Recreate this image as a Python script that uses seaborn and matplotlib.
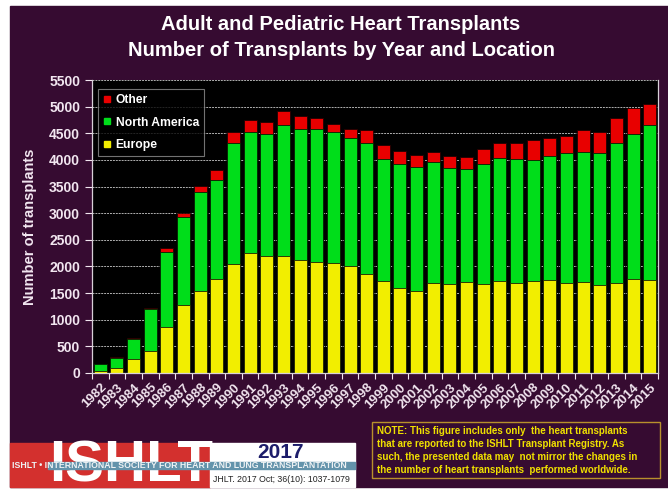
import seaborn as sns
import matplotlib.pyplot as plt
import numpy as np
import pandas as pd
from matplotlib.patches import Rectangle
from matplotlib.lines import Line2D

sns.set_style("dark")
plt.rcParams['font.family'] = ['Liberation Sans', 'DejaVu Sans']

# data
years = ['1982', '1983', '1984', '1985', '1986', '1987', '1988', '1989', '1990', '1991',
         '1992', '1993', '1994', '1995', '1996', '1997', '1998', '1999', '2000', '2001',
         '2002', '2003', '2004', '2005', '2006', '2007', '2008', '2009', '2010', '2011',
         '2012', '2013', '2014', '2015']
europe = [44, 88, 257, 419, 858, 1277, 1546, 1771, 2040, 2259,
          2196, 2196, 2115, 2090, 2059, 2003, 1865, 1721, 1596, 1546,
          1690, 1677, 1715, 1677, 1727, 1696, 1721, 1746, 1683, 1702,
          1646, 1696, 1771, 1752]
north_america = [119, 200, 375, 777, 1420, 1658, 1852, 1859, 2284, 2259,
                 2284, 2459, 2472, 2484, 2459, 2409, 2459, 2302, 2327, 2315,
                 2277, 2165, 2108, 2252, 2315, 2321, 2271, 2328, 2441, 2453,
                 2478, 2628, 2709, 2910]
other = [5, 8, 31, 15, 62, 62, 106, 181, 200, 231,
         238, 270, 231, 213, 151, 175, 238, 251, 244, 231,
         176, 232, 226, 282, 282, 307, 382, 331, 325, 407,
         406, 457, 489, 394]

series_names = ['Other', 'North America', 'Europe']
series_colors = ['#e80000', '#00dd1a', '#f2ee00']

df = pd.DataFrame({'year': years, 'europe': europe,
                   'north_america': north_america, 'other': other})
df['eu_na'] = df['europe'] + df['north_america']
df['total'] = df['eu_na'] + df['other']

W, H = 668, 492
bg = '#360b31'
txt = '#f2e6f0'

fig = plt.figure(figsize=(W / 100, H / 100), dpi=100, facecolor='white')


def fx(x):
    return x / W


def fy(y):
    return 1 - y / H


# purple slide background (behind the axes)
fig.patches.append(Rectangle((fx(10), fy(487)), 1 - fx(10), fy(6) - fy(487),
                             transform=fig.transFigure, color=bg, zorder=-5))

ax = fig.add_axes([fx(92), fy(373), fx(658) - fx(92), fy(80) - fy(373)])
ax.set_facecolor('black')

sns.barplot(data=df, x='year', y='total', color=series_colors[0], saturation=1,
            width=0.78, edgecolor='#200000', linewidth=0.6, ax=ax)
sns.barplot(data=df, x='year', y='eu_na', color=series_colors[1], saturation=1,
            width=0.78, edgecolor='#002000', linewidth=0.6, ax=ax)
sns.barplot(data=df, x='year', y='europe', color=series_colors[2], saturation=1,
            width=0.78, edgecolor='#202000', linewidth=0.6, ax=ax)

ax.set_ylim(0, 5500)
ax.set_xlim(-0.5, len(years) - 0.5)
ax.set_yticks(np.arange(0, 5501, 500))
ax.yaxis.grid(True, color='#b0b0b0', linestyle=(0, (2, 1)), linewidth=0.7)
ax.xaxis.grid(False)
ax.set_axisbelow(True)

ax.tick_params(axis='y', colors=txt, labelsize=10, length=5, width=0.8, direction='out', left=True)
for lab in ax.get_yticklabels():
    lab.set_fontweight('bold')

ax.set_xticks(range(len(years)))
ax.set_xticklabels(years, rotation=45, ha='right', va='top', rotation_mode='anchor',
                   fontsize=9.5, fontweight='bold', color=txt)
ax.tick_params(axis='x', which='major', length=0, pad=6)
ax.set_xticks(np.arange(-0.5, len(years), 1), minor=True)
ax.tick_params(axis='x', which='minor', length=4, width=0.8, color=txt, direction='out', bottom=True)

ax.set_xlabel('')
ax.set_ylabel('Number of transplants', color=txt, fontsize=10.5, fontweight='bold', labelpad=9)

for side in ['left', 'bottom', 'right']:
    ax.spines[side].set_visible(True)
    ax.spines[side].set_color('#d8d0d8')
    ax.spines[side].set_linewidth(0.9)
ax.spines['top'].set_visible(False)

handles = [Line2D([], [], marker='s', linestyle='none', markersize=4,
                  markerfacecolor=c, markeredgecolor=c) for c in series_colors]
leg = ax.legend(handles, series_names, loc='upper left', bbox_to_anchor=(0.0, 0.99),
                frameon=True, fancybox=False, facecolor='black', edgecolor='#909090',
                labelcolor='white', prop={'weight': 'bold', 'size': 8.7},
                handlelength=0.6, handletextpad=0.4, labelspacing=0.85, borderpad=0.45)
leg.get_frame().set_linewidth(0.8)

# titles
fig.text(fx(341), fy(25), 'Adult and Pediatric Heart Transplants', ha='center', va='center',
         color='white', fontsize=14.5, fontweight='bold')
fig.text(fx(341), fy(51), 'Number of Transplants by Year and Location', ha='center', va='center',
         color='white', fontsize=14.5, fontweight='bold')

# note box
fig.patches.append(Rectangle((fx(372), fy(478)), fx(660) - fx(372), fy(422) - fy(478),
                             transform=fig.transFigure, facecolor=bg, edgecolor='#b8902c',
                             linewidth=1.0, zorder=1))
note_lines = ['NOTE: This figure includes only  the heart transplants',
              'that are reported to the ISHLT Transplant Registry. As',
              'such, the presented data may  not mirror the changes in',
              'the number of heart transplants  performed worldwide.']
for i, line in enumerate(note_lines):
    fig.text(fx(377), fy(431 + 13 * i), line, ha='left', va='center', color='#f0e000',
             fontsize=7, fontweight='bold', zorder=2)

# ISHLT logo block
fig.patches.append(Rectangle((fx(10), fy(487)), fx(210) - fx(10), fy(443) - fy(487),
                             transform=fig.transFigure, color='#d3302e', zorder=1))
fig.patches.append(Rectangle((fx(210), fy(487)), fx(355) - fx(210), fy(443) - fy(487),
                             transform=fig.transFigure, color='white', zorder=1))
fig.text(fx(131), fy(466), 'ISHLT', ha='center', va='center', color='white',
         fontsize=42, fontweight='bold', zorder=2)
fig.patches.append(Rectangle((fx(48), fy(469)), fx(355) - fx(48), fy(462) - fy(469),
                             transform=fig.transFigure, color='#6393ab', zorder=3))
fig.text(fx(12), fy(465.5), 'ISHLT \u2022 INTERNATIONAL SOCIETY FOR HEART AND LUNG TRANSPLANTATION',
         ha='left', va='center', color='#eef2f4', fontsize=6.3, fontweight='bold', zorder=4)
fig.text(fx(281), fy(453), '2017', ha='center', va='center', color='#1c1c6a',
         fontsize=15, fontweight='bold', zorder=4)
fig.text(fx(281), fy(479), 'JHLT. 2017 Oct; 36(10): 1037-1079', ha='center', va='center',
         color='#222222', fontsize=6.3, zorder=4)

fig.savefig('out.png', dpi=100, facecolor='white')
